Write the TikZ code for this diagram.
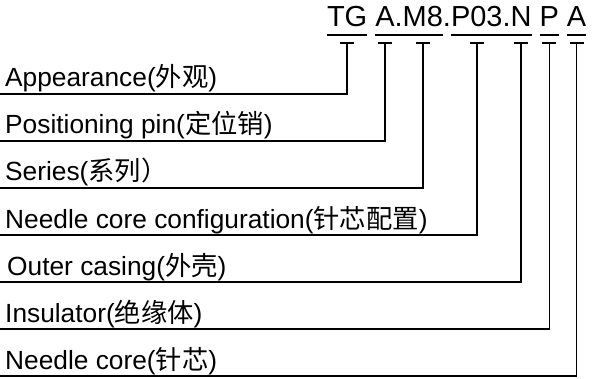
\documentclass[tikz,border=0pt]{standalone}
\usepackage{fontspec}
\setmainfont{Liberation Sans}
\newfontfamily\cjk{Noto Sans CJK SC}
\usetikzlibrary{positioning}
\begin{document}
\begin{tikzpicture}[x=1pt,y=1pt,
    code/.style={inner sep=0pt,outer sep=0pt,font=\fontsize{29}{33}\selectfont},
    label/.style={anchor=base west,inner sep=0pt,font=\fontsize{26.3}{30}\selectfont},
    lead/.style={line width=1.5pt}]
  \useasboundingbox (0,0) rectangle (599,378);

  % order code
  \node[code,anchor=base west] (tg) at (327,351) {TG};
  \node[code,base right=8pt of tg] (a) {A};
  \node[code,base right=0pt of a] (d1) {.};
  \node[code,base right=0pt of d1] (m8) {M8};
  \node[code,base right=0pt of m8] (d2) {.};
  \node[code,base right=0pt of d2] (p03) {P03};
  \node[code,base right=0pt of p03] (d3) {.};
  \node[code,base right=0pt of d3] (n) {N};
  \node[code,base right=8pt of n] (p) {P};
  \node[code,base right=8pt of p] (aa) {A};

  % labels
  \node[label] (app) at (5,291) {Appearance({\cjk 外观})};
  \node[label] (pin) at (5,244) {Positioning pin({\cjk 定位销})};
  \node[label] (ser) at (5,197) {Series({\cjk 系列）}};
  \node[label] (cfg) at (5,150) {Needle core configuration({\cjk 针芯配置})};
  \node[label] (cas) at (7,103) {Outer casing({\cjk 外壳})};
  \node[label] (ins) at (5,56) {Insulator({\cjk 绝缘体})};
  \node[label] (core) at (5,9) {Needle core({\cjk 针芯})};

  \coordinate (l1) at (0,284);
  \coordinate (l2) at (0,237);
  \coordinate (l3) at (0,190);
  \coordinate (l4) at (0,143);
  \coordinate (l5) at (0,96);
  \coordinate (l6) at (0,49);
  \coordinate (l7) at (0,2);

  % underlines and caps
  \draw[lead] ([yshift=-8pt]tg.base west) -- ([yshift=-8pt]tg.base east);
  \draw[lead] ([yshift=-8pt]a.base west) -- ([yshift=-8pt]d1.base east);
  \draw[lead] ([yshift=-8pt]m8.base west) -- ([yshift=-8pt]m8.base east);
  \draw[lead] ([yshift=-8pt]p03.base west) -- ([yshift=-8pt]d3.base east);
  \draw[lead] ([yshift=-8pt]n.base west) -- ([yshift=-8pt]n.base east);
  \draw[lead] ([yshift=-8pt]p.base west) -- ([yshift=-8pt]p.base east);
  \draw[lead] ([yshift=-8pt]aa.base west) -- ([yshift=-8pt]aa.base east);

  \draw[lead] ([shift={(-7pt,-16pt)}]tg.base) -- ++(14,0);
  \draw[lead] ([shift={(-7pt,-16pt)}]a.base) -- ++(14,0);
  \draw[lead] ([shift={(-7pt,-16pt)}]m8.base) -- ++(14,0);
  \draw[lead] ([shift={(-7pt,-16pt)}]p03.base) -- ++(14,0);
  \draw[lead] ([shift={(-7pt,-16pt)}]n.base) -- ++(14,0);
  \draw[lead] ([shift={(-7pt,-16pt)}]p.base) -- ++(14,0);
  \draw[lead] ([shift={(-7pt,-16pt)}]aa.base) -- ++(14,0);

  % leaders
  \draw[lead] (l1) -| ([yshift=-16pt]tg.base);
  \draw[lead] (l2) -| ([yshift=-16pt]a.base);
  \draw[lead] (l3) -| ([yshift=-16pt]m8.base);
  \draw[lead] (l4) -| ([yshift=-16pt]p03.base);
  \draw[lead] (l5) -| ([yshift=-16pt]n.base);
  \draw[lead] (l6) -| ([yshift=-16pt]p.base);
  \draw[lead] (l7) -| ([yshift=-16pt]aa.base);
\end{tikzpicture}
\end{document}
